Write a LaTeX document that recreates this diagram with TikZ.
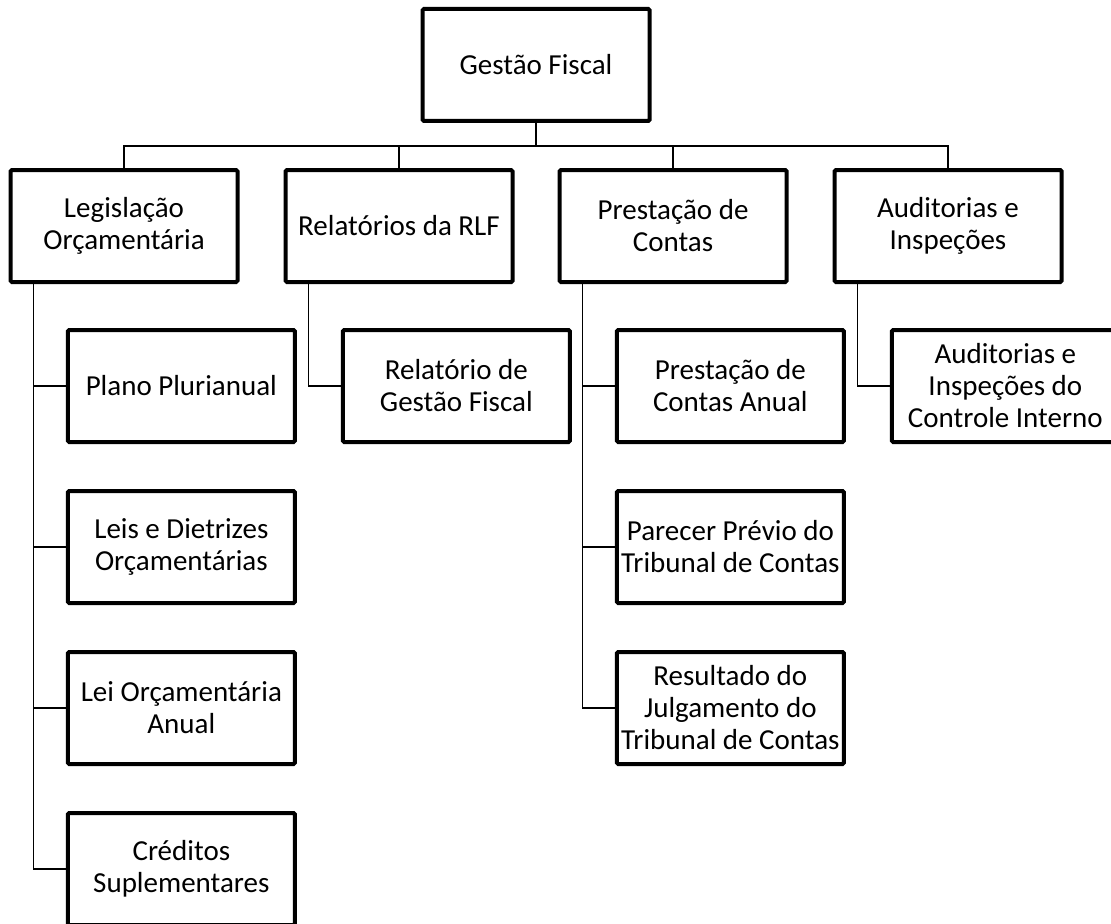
\documentclass[tikz,border=0pt]{standalone}
\usepackage{fontspec}
\setmainfont{Carlito}
\usetikzlibrary{positioning}

\begin{document}
\begin{tikzpicture}[
  font=\fontsize{21.75}{24}\selectfont,
  node distance=33.75pt and 33pt,
  box/.style={draw, rectangle, line width=3pt, rounded corners=1pt,
    minimum width=170.25pt, minimum height=84pt, inner sep=1pt, align=center},
  conn/.style={line width=1pt}
]
\useasboundingbox (0,0) rectangle (833.25pt,-693pt);

\node[box] (gf) at (402pt,-48.75pt) {Gestão Fiscal};
\node[box, below=of gf, xshift=-102.75pt] (rlf) {Relatórios da RLF};
\node[box, left=of rlf] (leg) {Legislação\\Orçamentária};
\node[box, below=of gf, xshift=102.75pt] (pc) {Prestação de\\Contas};
\node[box, right=of pc] (aud) {Auditorias e\\Inspeções};

\node[box, below=33pt of leg, xshift=43pt] (ppa) {Plano Plurianual};
\node[box, below=of ppa] (ldo) {Leis e Dietrizes\\Orçamentárias};
\node[box, below=of ldo] (loa) {Lei Orçamentária\\Anual};
\node[box, below=of loa] (cred) {Créditos\\Suplementares};

\node[box, below=33pt of rlf, xshift=43pt] (rgf) {Relatório de\\Gestão Fiscal};

\node[box, below=33pt of pc, xshift=43pt] (pca) {Prestação de\\Contas Anual};
\node[box, below=of pca] (ppt) {Parecer Prévio do\\Tribunal de Contas};
\node[box, below=of ppt] (rjt) {Resultado do\\Julgamento do\\Tribunal de Contas};

\node[box, below=33pt of aud, xshift=43pt] (aci) {Auditorias e\\Inspeções do\\Controle Interno};

\draw[conn] (gf.south) -- ++(0,-17.25pt) -| (leg.north);
\draw[conn] (gf.south) -- ++(0,-17.25pt) -| (rlf.north);
\draw[conn] (gf.south) -- ++(0,-17.25pt) -| (pc.north);
\draw[conn] (gf.south) -- ++(0,-17.25pt) -| (aud.north);

\draw[conn] ([xshift=18.75pt]leg.south west) |- (ppa.west);
\draw[conn] ([xshift=18.75pt]leg.south west) |- (ldo.west);
\draw[conn] ([xshift=18.75pt]leg.south west) |- (loa.west);
\draw[conn] ([xshift=18.75pt]leg.south west) |- (cred.west);
\draw[conn] ([xshift=18.75pt]rlf.south west) |- (rgf.west);
\draw[conn] ([xshift=18.75pt]pc.south west) |- (pca.west);
\draw[conn] ([xshift=18.75pt]pc.south west) |- (ppt.west);
\draw[conn] ([xshift=18.75pt]pc.south west) |- (rjt.west);
\draw[conn] ([xshift=18.75pt]aud.south west) |- (aci.west);
\end{tikzpicture}
\end{document}
